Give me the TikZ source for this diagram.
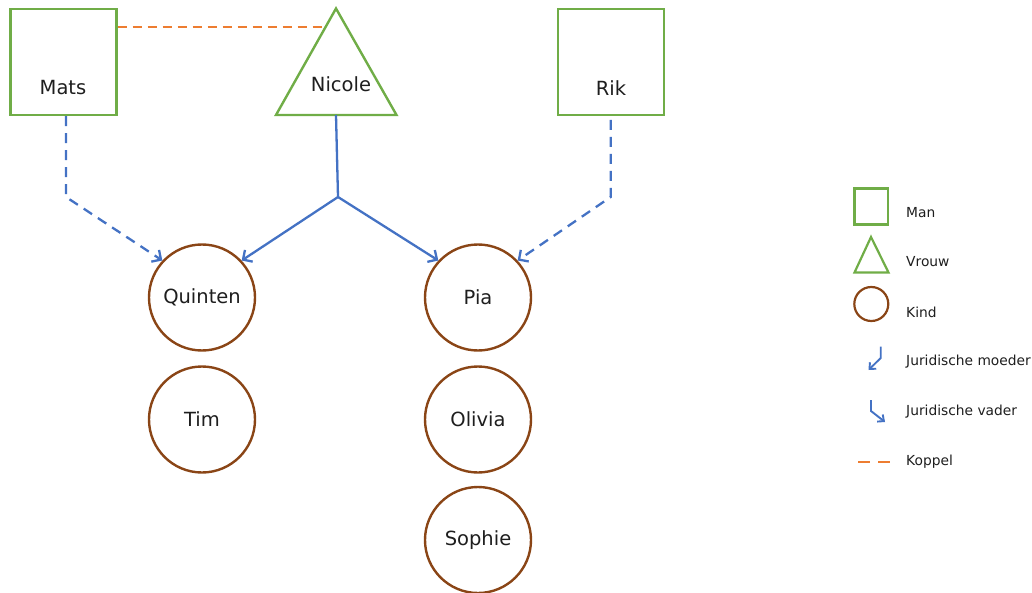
\documentclass[tikz,border=0pt]{standalone}
\usepackage{fontspec}
\setmainfont{DejaVu Sans}
\usetikzlibrary{arrows.meta,shapes.geometric}
\definecolor{mgreen}{HTML}{70AD47}
\definecolor{mblue}{HTML}{4472C4}
\definecolor{morange}{HTML}{ED7D31}
\definecolor{mbrown}{HTML}{8A4516}
\definecolor{mtext}{HTML}{1E1E1E}
\begin{document}
\begin{tikzpicture}[x=1pt,y=-1pt,
  manbox/.style={draw=mgreen,line width=2.4pt,minimum size=106pt,inner sep=0pt},
  kidcirc/.style={circle,draw=mbrown,line width=2.4pt,minimum size=106pt,inner sep=0pt,font=\fontsize{19.5}{22}\selectfont,text=mtext},
  lbl/.style={font=\fontsize{19.5}{22}\selectfont,text=mtext,inner sep=0pt},
  leg/.style={font=\fontsize{13.8}{16}\selectfont,text=mtext,anchor=west,inner sep=0pt},
  parent/.style={draw=mblue,line width=2.3pt,-{Straight Barb[length=7pt,width=14pt]}},
  legal/.style={parent,dash pattern=on 10pt off 7pt},
  couple/.style={draw=morange,line width=2.3pt,dash pattern=on 9pt off 6pt},
  womantri/.style={draw=mgreen,line width=2.4pt,line join=miter}
]
\useasboundingbox (0,0) rectangle (1032,593);
% parents
\node[manbox] (mats) at (63.5,62) {};
\node[lbl] (matsl) at (63,88) {Mats};
\node[manbox] (rik) at (611,62) {};
\node[lbl] (rikl) at (611,88) {Rik};
\draw[womantri] (336,8.5) -- (396.5,115) -- (276,115) -- cycle;
\coordinate (nicb) at (336,115);
\node[lbl] (nicl) at (341,84) {Nicole};
% children
\node[kidcirc] (quinten) at (202,297.5) {Quinten};
\node[kidcirc] (tim) at (202,419.5) {Tim};
\node[kidcirc] (pia) at (478,297.5) {Pia};
\node[kidcirc] (olivia) at (478,419.5) {Olivia};
\node[kidcirc] (sophie) at (478,540) {Sophie};
% junctions
\coordinate (mj) at (66,197);
\coordinate (nj) at (338,197);
\coordinate (rj) at (610.7,197);
\coordinate (cpl) at (322,27);
% connectors
\draw[couple] (mats.east |- cpl) -- (cpl);
\draw[legal] (mats.south -| mj) -- (mj) -- (quinten.137);
\draw[draw=mblue,line width=2.3pt] (nicb) -- (nj);
\draw[parent] (nj) -- (quinten.43);
\draw[parent] (nj) -- (pia.137);
\draw[legal] (610.7,120) -- (rj) -- (pia.43);
% legend
\draw[draw=mgreen,line width=2.2pt] (854.5,188.5) rectangle (888,224.5);
\node[leg] (lman) at (906,213) {Man};
\draw[womantri,line width=2.2pt] (871,237) -- (888.5,272.5) -- (854.5,272.5) -- cycle;
\node[leg] (lvrouw) at (906,262) {Vrouw};
\draw[draw=mbrown,line width=2.2pt] (871.3,304) circle[radius=17];
\node[leg] (lkind) at (906,312) {Kind};
\coordinate (lm1) at (880.7,346.5);
\coordinate (lm2) at (880.7,358);
\coordinate (lm3) at (868.5,370);
\draw[draw=mblue,line width=1.9pt,-{Straight Barb[length=5pt,width=9pt]}] (lm1) -- (lm2) -- (lm3);
\node[leg] (lmoeder) at (906,362) {Juridische moeder};
\coordinate (lv1) at (871,400);
\coordinate (lv2) at (871,411);
\coordinate (lv3) at (885,422);
\draw[draw=mblue,line width=1.9pt,-{Straight Barb[length=5pt,width=9pt]}] (lv1) -- (lv2) -- (lv3);
\node[leg] (lvader) at (906,412) {Juridische vader};
\coordinate (lk1) at (858,462);
\coordinate (lk2) at (889.5,462);
\draw[draw=morange,line width=2pt,dash pattern=on 12pt off 8pt] (lk1) -- (lk2);
\node[leg] (lkoppel) at (906,462) {Koppel};
\end{tikzpicture}
\end{document}
